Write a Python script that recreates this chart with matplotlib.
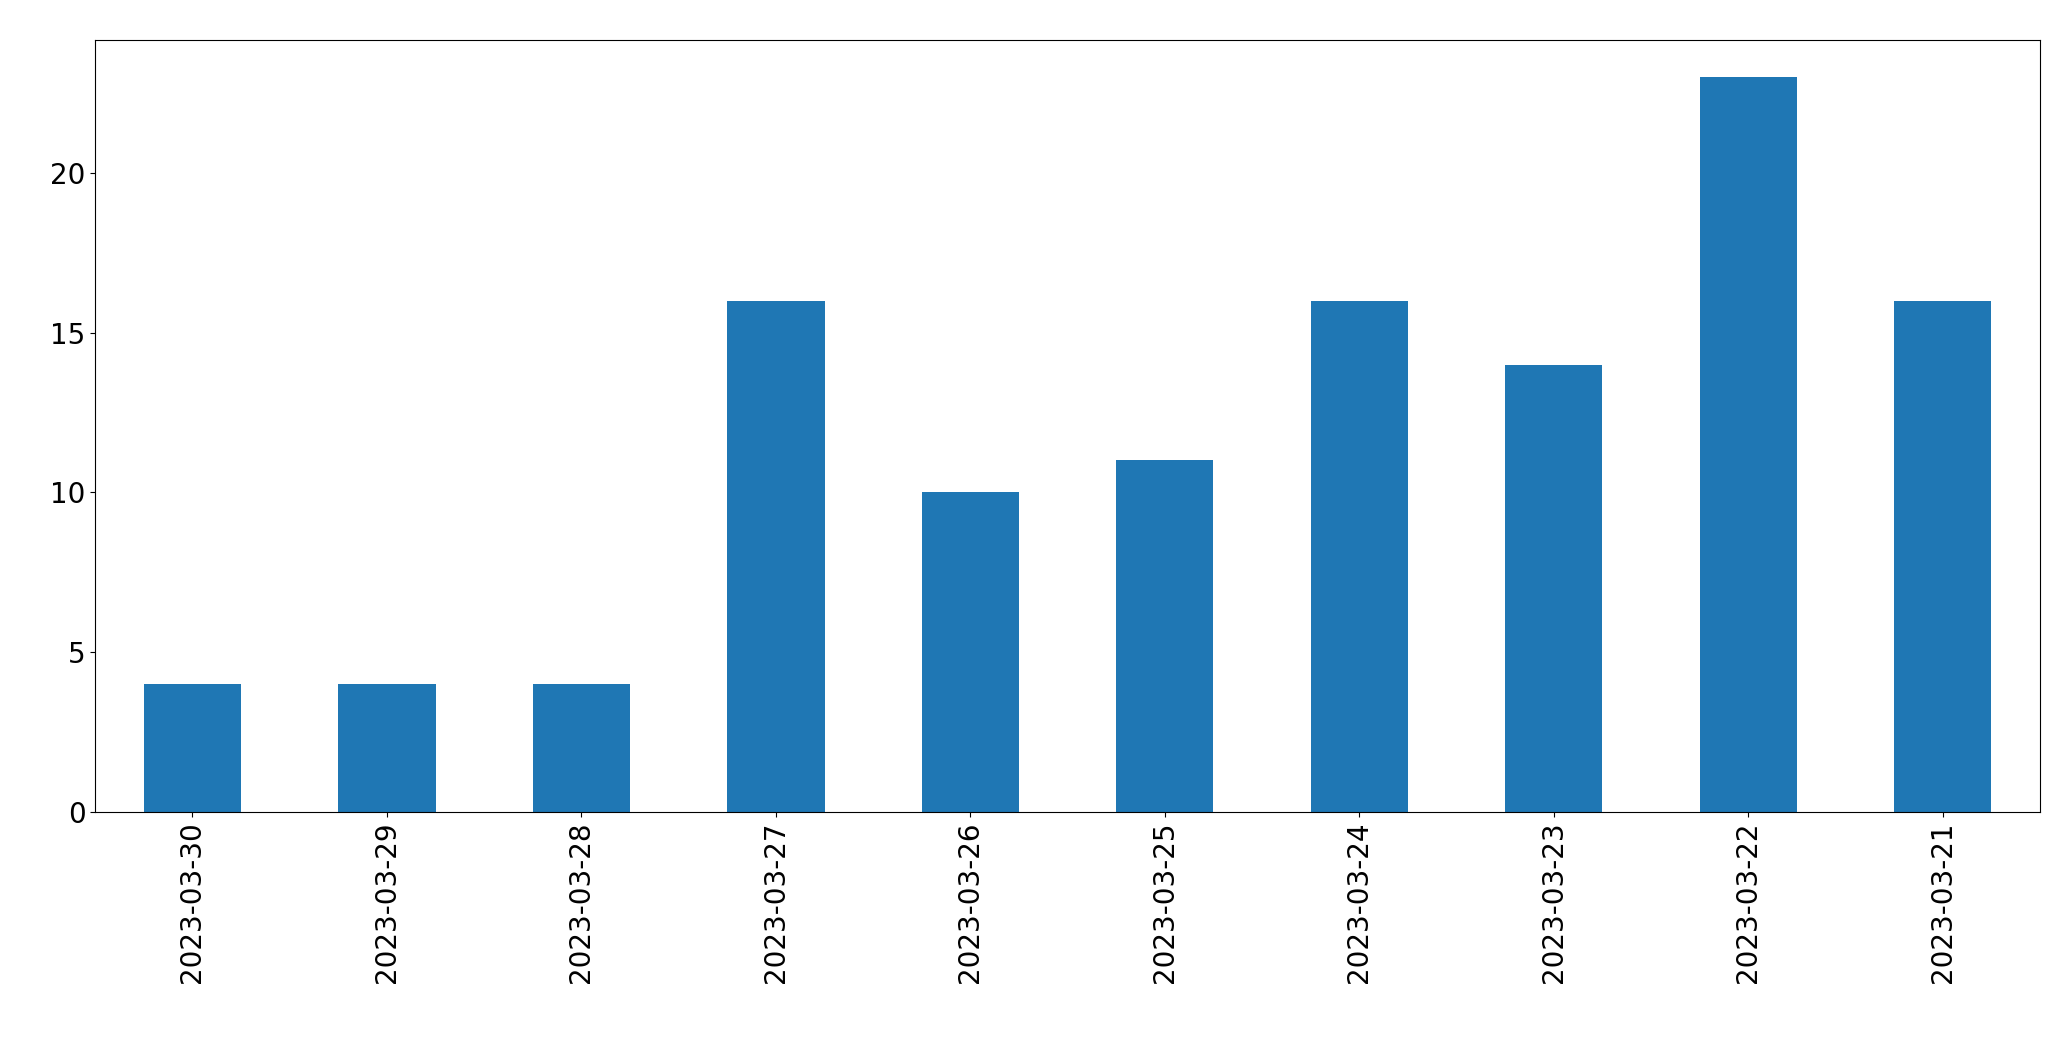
import matplotlib
matplotlib.use("Agg")
import matplotlib.pyplot as plt

datas = ["2023-03-30", "2023-03-29", "2023-03-28", "2023-03-27", "2023-03-26",
         "2023-03-25", "2023-03-24", "2023-03-23", "2023-03-22", "2023-03-21"]
contagens = [4, 4, 4, 16, 10, 11, 16, 14, 23, 16]

fig, ax = plt.subplots(figsize=(20.71, 10.61), dpi=100)
x = range(len(datas))
ax.bar(x, contagens, width=0.5, color="#1f77b4")
ax.set_xticks(list(x))
ax.set_xticklabels(datas, rotation=90, fontsize=20)
ax.tick_params(axis="y", labelsize=20)
ax.set_xlim(-0.5, len(datas) - 0.5)
fig.subplots_adjust(left=0.046, right=0.985, top=0.962, bottom=0.235)
fig.savefig("out.png", dpi=100)
plt.close()
